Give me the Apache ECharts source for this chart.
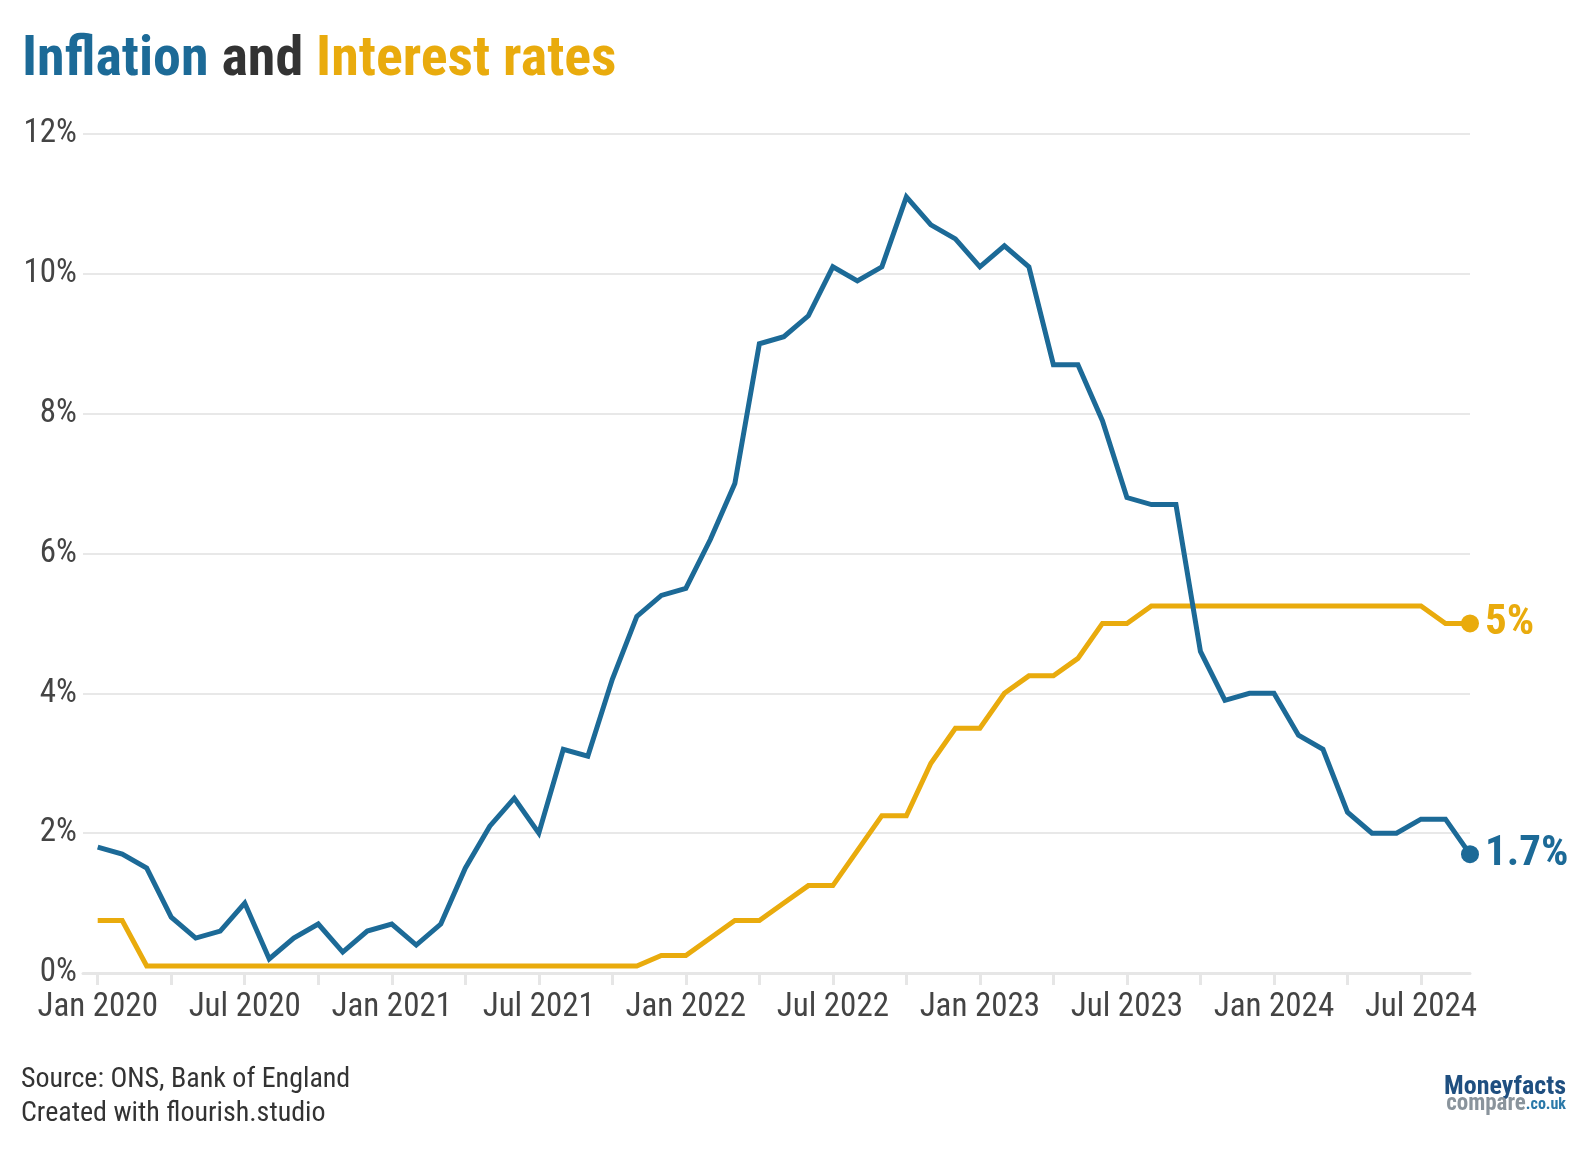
<!DOCTYPE html>
<html>
<head>
<meta charset="utf-8">
<style>
  html, body { margin: 0; padding: 0; background: #ffffff; }
  #chart { width: 1588px; height: 1150px; }
</style>
<script src="https://cdn.jsdelivr.net/npm/echarts@6/dist/echarts.min.js"></script>
</head>
<body>
<div id="chart"></div>
<script>
// ---- Data ----
const months = [];
(function () {
  const names = ['Jan','Feb','Mar','Apr','May','Jun','Jul','Aug','Sep','Oct','Nov','Dec'];
  for (let y = 2020; y <= 2024; y++) {
    for (let m = 0; m < 12; m++) {
      if (y === 2024 && m > 8) break;
      months.push(names[m] + ' ' + y);
    }
  }
})();

// CPI inflation, % (Jan 2020 – Sep 2024)
const inflation = [
  1.8, 1.7, 1.5, 0.8, 0.5, 0.6, 1.0, 0.2, 0.5, 0.7, 0.3, 0.6,
  0.7, 0.4, 0.7, 1.5, 2.1, 2.5, 2.0, 3.2, 3.1, 4.2, 5.1, 5.4,
  5.5, 6.2, 7.0, 9.0, 9.1, 9.4, 10.1, 9.9, 10.1, 11.1, 10.7, 10.5,
  10.1, 10.4, 10.1, 8.7, 8.7, 7.9, 6.8, 6.7, 6.7, 4.6, 3.9, 4.0,
  4.0, 3.4, 3.2, 2.3, 2.0, 2.0, 2.2, 2.2, 1.7
];

// Bank Rate, % (Jan 2020 – Sep 2024)
const interestRate = [
  0.75, 0.75, 0.1, 0.1, 0.1, 0.1, 0.1, 0.1, 0.1, 0.1, 0.1, 0.1,
  0.1, 0.1, 0.1, 0.1, 0.1, 0.1, 0.1, 0.1, 0.1, 0.1, 0.1, 0.25,
  0.25, 0.5, 0.75, 0.75, 1.0, 1.25, 1.25, 1.75, 2.25, 2.25, 3.0, 3.5,
  3.5, 4.0, 4.25, 4.25, 4.5, 5.0, 5.0, 5.25, 5.25, 5.25, 5.25, 5.25,
  5.25, 5.25, 5.25, 5.25, 5.25, 5.25, 5.25, 5.0, 5.0
];

const yTicks = [0, 2, 4, 6, 8, 10, 12];
const endLabels = { inflation: '1.7%', interest: '5%' };

// ---- Chart ----
const FONT = "'Roboto Condensed', 'Liberation Sans Narrow', 'DejaVu Sans Condensed', Roboto, sans-serif";
const BLUE = '#1c6a97';
const GOLD = '#e9ab0d';
const last = months.length - 1;

const labelIdx = months.map((m, i) => i).filter(i => /^(Jan|Jul)/.test(months[i]));
const tickIdx = months.map((m, i) => i).filter(i => i % 3 === 0);

const chart = echarts.init(document.getElementById('chart'), null, { renderer: 'canvas' });

function lineSeries(name, values, color, label) {
  return {
    name: name,
    type: 'line',
    data: values.map((v, i) => [i, v]),
    symbol: 'circle',
    showAllSymbol: true,
    symbolSize: (val, p) => (p.dataIndex === last ? 18 : 0),
    lineStyle: { color: color, width: 5, join: 'miter' },
    itemStyle: { color: color },
    emphasis: { disabled: true },
    animation: false,
    endLabel: {
      show: true,
      formatter: label,
      color: color,
      fontFamily: FONT,
      fontWeight: 'bold',
      fontSize: 43,
      distance: 15
    }
  };
}

chart.setOption({
  backgroundColor: '#ffffff',
  animation: false,
  title: {
    left: 17,
    top: 28,
    text: '{a|Inflation} {b|and} {c|Interest rates}',
    textStyle: {
      fontFamily: FONT,
      fontWeight: 'bold',
      fontSize: 56,
      rich: {
        a: { color: BLUE, fontFamily: FONT, fontWeight: 'bold', fontSize: 56 },
        b: { color: '#333333', fontFamily: FONT, fontWeight: 'bold', fontSize: 56 },
        c: { color: GOLD, fontFamily: FONT, fontWeight: 'bold', fontSize: 56 }
      }
    }
  },
  grid: { left: 83, right: 118, top: 134, bottom: 177, containLabel: false },
  xAxis: {
    type: 'value',
    min: -0.6,
    max: last,
    axisLine: { show: true, lineStyle: { color: '#e6e6e6', width: 3 } },
    axisTick: {
      show: true,
      customValues: tickIdx,
      length: 12,
      lineStyle: { color: '#e6e6e6', width: 3 }
    },
    axisLabel: {
      customValues: labelIdx,
      formatter: v => months[Math.round(v)] || '',
      color: '#444444',
      fontFamily: FONT,
      fontSize: 33,
      margin: 18
    },
    splitLine: { show: false }
  },
  yAxis: {
    type: 'value',
    min: yTicks[0],
    max: yTicks[yTicks.length - 1],
    interval: 2,
    axisLine: { show: false },
    axisTick: { show: false },
    axisLabel: {
      formatter: v => v + '%',
      color: '#444444',
      fontFamily: FONT,
      fontSize: 33,
      margin: 6
    },
    splitLine: { show: true, lineStyle: { color: '#e8e8e8', width: 2 } }
  },
  series: [
    lineSeries('Interest rates', interestRate, GOLD, endLabels.interest),
    lineSeries('Inflation', inflation, BLUE, endLabels.inflation)
  ],
  graphic: [
    {
      type: 'text', left: 21, top: 1066,
      style: { text: 'Source: ONS, Bank of England', fill: '#333333', font: '28px ' + FONT }
    },
    {
      type: 'text', left: 21, top: 1100,
      style: { text: 'Created with flourish.studio', fill: '#333333', font: '28px ' + FONT }
    },
    {
      type: 'text', right: 22, top: 1074,
      style: { text: 'Moneyfacts', fill: '#1f4f80', font: 'bold 26px ' + FONT }
    },
    {
      type: 'text', right: 22, top: 1093,
      style: {
        text: '{g|compare}{b|.co.uk}',
        rich: {
          g: { fill: '#8a949c', font: 'bold 23px ' + FONT },
          b: { fill: '#2a78a8', font: 'bold 16px ' + FONT }
        }
      }
    }
  ]
});
</script>
</body>
</html>
